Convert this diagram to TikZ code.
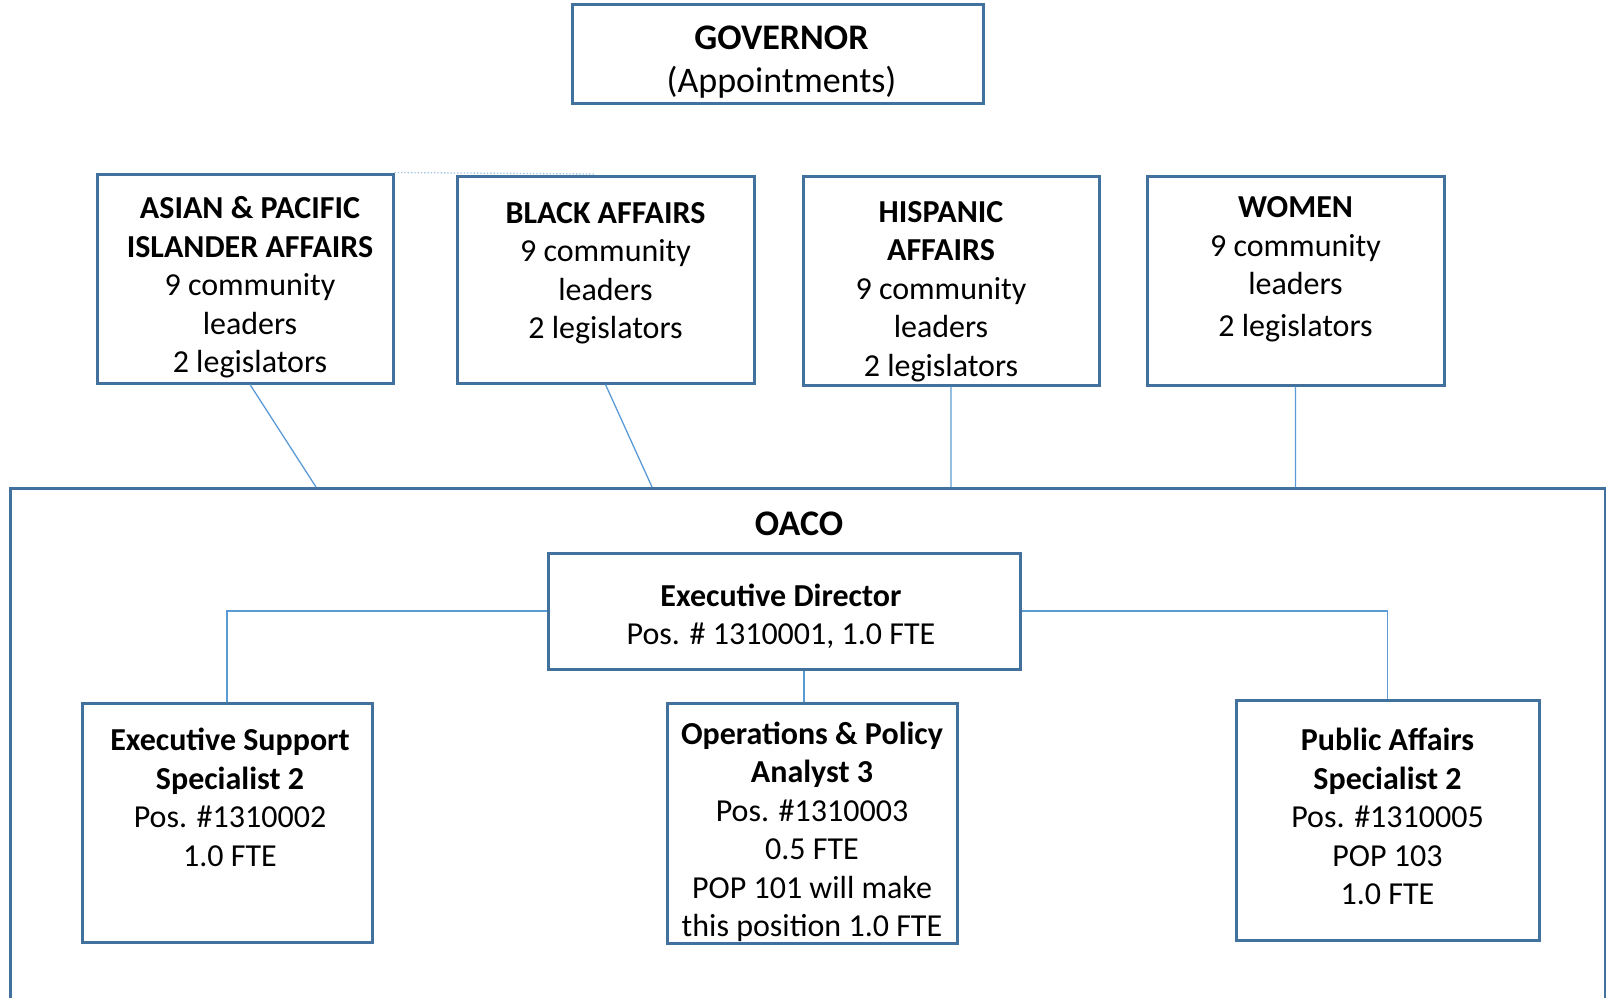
\documentclass[tikz,border=0pt]{standalone}
\usepackage{fontspec}
\setmainfont{Carlito}
\usetikzlibrary{positioning}
\definecolor{boxblue}{HTML}{41719C}
\definecolor{linkblue}{HTML}{5B9BD5}
\definecolor{dotblue}{HTML}{9DC3E6}

\begin{document}
\begin{tikzpicture}[
      x=1pt, y=-1pt,
      font=\fontsize{32}{38.5}\selectfont,
      box/.style={
          rectangle,
          draw=boxblue, line width=3pt, fill=white,
          inner sep=0pt,
        },
      txt/.style={align=center, inner sep=0pt},
      big/.style={font=\fontsize{36}{43}\selectfont},
      link/.style={draw=linkblue, line width=1.3pt},
    ]
    \useasboundingbox (0,0) rectangle (1606,998);

    \node[box, minimum width=1595, minimum height=540, anchor=north west] (oaco) at (9,487) {};
    \node[txt, big] (oacotitle) at (799,524) {\textbf{OACO}};

    % frames
    \node[box, minimum width=411, minimum height=98] (gov) at (777.5,54) {};
    \node[box, minimum width=296, minimum height=209] (asian) at (245,278.5) {};
    \node[box, minimum width=297, minimum height=207] (black) at (605.5,279.5) {};
    \node[box, minimum width=296, minimum height=209] (hisp) at (951,280.5) {};
    \node[box, minimum width=297, minimum height=209] (women) at (1295.5,280.5) {};
    \node[box, minimum width=472, minimum height=116] (ed) at (784,611) {};
    \node[box, minimum width=290, minimum height=239] (esup) at (227,822.5) {};
    \node[box, minimum width=290, minimum height=240] (ops) at (812,823) {};
    \node[box, minimum width=303, minimum height=240] (pub) at (1387.5,820) {};

    % texts
    \node[txt, big] (govtext) at ([xshift=4pt,yshift=-8.5pt]gov.center)
      {\textbf{GOVERNOR}\\(Appointments)};
    \node[txt] (asiantext) at ([xshift=5pt,yshift=-9pt]asian.center)
      {\textbf{ASIAN \& PACIFIC}\\\textbf{ISLANDER AFFAIRS}\\9 community\\leaders\\2 legislators};
    \node[txt] (blacktext) at ([yshift=6pt]black.center)
      {\textbf{BLACK AFFAIRS}\\9 community\\leaders\\2 legislators};
    \node[txt] (hisptext) at ([xshift=-10pt,yshift=-11pt]hisp.center)
      {\textbf{HISPANIC}\\\textbf{AFFAIRS}\\9 community\\leaders\\2 legislators};
    \node[txt] (womentext) at ([yshift=11pt]women.center)
      {\textbf{WOMEN}\\9 community\\leaders\\[3pt]2 legislators};
    \node[txt] (edtext) at ([xshift=-3pt,yshift=-5.5pt]ed.center)
      {\textbf{Executive Director}\\Pos. \# 1310001, 1.0 FTE};
    \node[txt] (esuptext) at ([xshift=3pt,yshift=25pt]esup.center)
      {\textbf{Executive Support}\\\textbf{Specialist 2}\\Pos. \#1310002\\1.0 FTE};
    \node[txt] (opstext) at ([yshift=-9pt]ops.center)
      {\textbf{Operations \& Policy}\\\textbf{Analyst 3}\\Pos. \#1310003\\0.5 FTE\\POP 101 will make\\this position 1.0 FTE};
    \node[txt] (pubtext) at ([yshift=3.5pt]pub.center)
      {\textbf{Public Affairs}\\\textbf{Specialist 2}\\Pos. \#1310005\\POP 103\\1.0 FTE};

    \coordinate (dotend) at (595,174);

    % councils to OACO
    \draw[link]
    ([xshift=5pt]asian.south) -- (316,0 |- oaco.north)
    (black.south) -- (652,0 |- oaco.north)
    (hisp.south) -- (hisp.south |- oaco.north)
    (women.south) -- (women.south |- oaco.north)
    ;
    \draw[dotblue, line width=1.3pt, dotted] (asian.north east) -- (dotend);

    % staff
    \draw[link]
    (ed.west) -| (esup.north)
    (ed.east) -| (pub.north)
    ([xshift=20pt]ed.south) -- ([xshift=20pt]ed.south |- ops.north)
    ;
  \end{tikzpicture}
\end{document}
